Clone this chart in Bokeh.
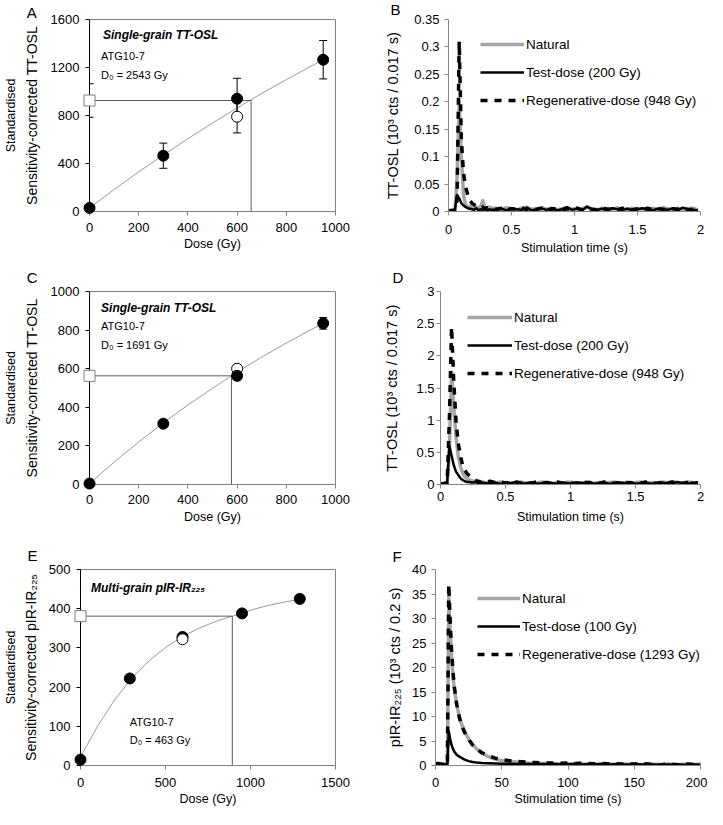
from bokeh.plotting import figure
from bokeh.layouts import column, row
from bokeh.models import (Range1d, FixedTicker, LinearAxis, Label, Whisker,
                          ColumnDataSource, Legend, LegendItem,
                          CustomJSTickFormatter, TeeHead)
from bokeh.core.properties import value
from bokeh.embed import file_html
from bokeh.resources import INLINE

FONT = "Liberation Sans"

# ---------------- Panel A (single-grain TT-OSL dose response) ----------------
A_dose = [0, 300, 600, 950]
A_signal = [30, 465, 940, 1265]
A_err = [0, 105, 170, 160]
A_recycle_dose = [600]
A_recycle = [790]
A_recycle_err = [135]
A_natural = 925
A_natural_err = 140
A_de = 657
A_fit_dose = [0, 100, 200, 300, 400, 500, 600, 700, 800, 900, 950]
A_fit = [30, 183, 330, 471, 607, 737, 863, 984, 1099, 1210, 1265]
A_xticks = [0, 200, 400, 600, 800, 1000]
A_yticks = [0, 400, 800, 1200, 1600]

# ---------------- Panel C ----------------
C_dose = [0, 300, 600, 950]
C_signal = [5, 315, 563, 835]
C_err = [0, 8, 20, 30]
C_recycle_dose = [600]
C_recycle = [600]
C_recycle_err = [18]
C_natural = 563
C_natural_err = 12
C_de = 577
C_fit_dose = [0, 100, 200, 300, 400, 500, 600, 700, 800, 900, 950]
C_fit = [5, 116, 220, 319, 412, 499, 582, 660, 733, 802, 835]
C_xticks = [0, 200, 400, 600, 800, 1000]
C_yticks = [0, 200, 400, 600, 800, 1000]

# ---------------- Panel E (multi-grain pIR-IR225) ----------------
E_dose = [0, 290, 600, 950, 1290]
E_signal = [15, 222, 328, 388, 425]
E_err = [0, 0, 0, 0, 0]
E_recycle_dose = [600]
E_recycle = [322]
E_recycle_err = [0]
E_natural = 381
E_natural_err = 0
E_de = 893
E_fit_dose = [0, 100, 200, 300, 400, 500, 600, 700, 800, 900, 1000, 1100, 1200, 1290]
E_fit = [22, 100, 167, 222, 266, 301, 329, 351, 368, 382, 396, 408, 417, 424]
E_xticks = [0, 500, 1000, 1500]
E_yticks = [0, 100, 200, 300, 400, 500]

# ---------------- Panels B and D (TT-OSL decay curves) ----------------
T_OSL = [0, 0.017, 0.034, 0.051, 0.068, 0.085, 0.102, 0.119, 0.136, 0.153,
         0.17, 0.187, 0.204, 0.221, 0.238, 0.255, 0.272, 0.289, 0.306, 0.323,
         0.34, 0.38, 0.42, 0.46, 0.5, 0.54, 0.58, 0.62, 0.66, 0.7,
         0.74, 0.78, 0.82, 0.86, 0.9, 0.94, 0.98, 1.02, 1.06, 1.1,
         1.14, 1.18, 1.22, 1.26, 1.3, 1.34, 1.38, 1.42, 1.46, 1.5,
         1.54, 1.58, 1.62, 1.66, 1.7, 1.74, 1.78, 1.82, 1.86, 1.9,
         1.94, 1.98]

B_nat_head = [0.002, 0.001, 0.003, 0.004, 0.06, 0.2, 0.1, 0.03, 0.012, 0.008,
              0.01, 0.006, 0.005, 0.008, 0.006, 0.009, 0.02, 0.007, 0.005, 0.008, 0.006]
B_nat_tail = [0.006, 0.004, 0.007, 0.005, 0.003, 0.006, 0.008, 0.004, 0.005, 0.007,
              0.004, 0.006, 0.003, 0.005, 0.007, 0.004, 0.006, 0.005, 0.008, 0.004,
              0.003, 0.006, 0.005, 0.004, 0.007, 0.003, 0.005, 0.006, 0.004, 0.005,
              0.003, 0.006, 0.004, 0.007, 0.005, 0.003, 0.006, 0.004, 0.005, 0.006,
              0.003]
B_test_head = [0.001, 0.002, 0.001, 0.003, 0.03, 0.024, 0.015, 0.011, 0.008, 0.006,
               0.005, 0.004, 0.003, 0.006, 0.002, 0.004, 0.003, 0.005, 0.002, 0.004, 0.003]
B_test_tail = [0.003, 0.005, 0.002, 0.006, 0.004, 0.003, 0.007, 0.002, 0.004, 0.005,
               0.003, 0.006, 0.002, 0.004, 0.008, 0.003, 0.005, 0.002, 0.009, 0.004,
               0.003, 0.005, 0.002, 0.006, 0.004, 0.003, 0.005, 0.002, 0.004, 0.006,
               0.003, 0.002, 0.005, 0.004, 0.003, 0.006, 0.002, 0.007, 0.004, 0.003,
               0.002]
B_reg_head = [0.001, 0.002, 0.002, 0.003, 0.02, 0.31, 0.13, 0.07, 0.045, 0.03,
              0.02, 0.015, 0.012, 0.01, 0.008, 0.006, 0.008, 0.005, 0.007, 0.006, 0.005]
B_reg_tail = [0.004, 0.006, 0.003, 0.005, 0.004, 0.007, 0.003, 0.005, 0.004, 0.006,
              0.003, 0.004, 0.006, 0.003, 0.005, 0.004, 0.006, 0.003, 0.005, 0.004,
              0.003, 0.006, 0.004, 0.005, 0.003, 0.006, 0.004, 0.003, 0.005, 0.004,
              0.006, 0.003, 0.005, 0.004, 0.003, 0.005, 0.004, 0.006, 0.003, 0.004,
              0.003]

D_nat_head = [0.01, 0.01, 0.02, 0.01, 0.5, 1.75, 1.2, 0.75, 0.45, 0.28,
              0.18, 0.12, 0.09, 0.07, 0.06, 0.05, 0.04, 0.05, 0.03, 0.04, 0.03]
D_nat_tail = [0.03, 0.02, 0.04, 0.03, 0.02, 0.03, 0.04, 0.02, 0.03, 0.02,
              0.04, 0.03, 0.02, 0.03, 0.02, 0.04, 0.03, 0.02, 0.03, 0.04,
              0.02, 0.03, 0.02, 0.03, 0.04, 0.02, 0.03, 0.02, 0.03, 0.04,
              0.02, 0.03, 0.02, 0.04, 0.03, 0.02, 0.03, 0.02, 0.04, 0.03,
              0.02]
D_test_head = [0.01, 0.02, 0.01, 0.02, 0.6, 0.45, 0.3, 0.2, 0.15, 0.1,
               0.07, 0.05, 0.04, 0.04, 0.03, 0.03, 0.04, 0.02, 0.03, 0.03, 0.02]
D_test_tail = [0.02, 0.03, 0.01, 0.03, 0.02, 0.04, 0.01, 0.02, 0.03, 0.01,
               0.02, 0.04, 0.02, 0.01, 0.03, 0.02, 0.01, 0.03, 0.02, 0.04,
               0.01, 0.02, 0.03, 0.01, 0.02, 0.03, 0.02, 0.04, 0.01, 0.02,
               0.03, 0.01, 0.02, 0.03, 0.02, 0.01, 0.04, 0.02, 0.01, 0.03,
               0.02]
D_reg_head = [0.01, 0.01, 0.02, 0.02, 1.0, 2.45, 1.6, 1.0, 0.65, 0.45,
              0.3, 0.22, 0.17, 0.14, 0.12, 0.08, 0.06, 0.05, 0.04, 0.05, 0.03]
D_reg_tail = [0.05, 0.03, 0.04, 0.02, 0.03, 0.04, 0.02, 0.03, 0.02, 0.04,
              0.03, 0.02, 0.03, 0.04, 0.02, 0.03, 0.02, 0.03, 0.04, 0.02,
              0.03, 0.02, 0.04, 0.03, 0.02, 0.03, 0.04, 0.02, 0.03, 0.02,
              0.04, 0.03, 0.02, 0.03, 0.02, 0.04, 0.03, 0.02, 0.03, 0.04,
              0.02]

OSL_xticks = [0, 0.5, 1, 1.5, 2]
B_yticks = [0, 0.05, 0.1, 0.15, 0.2, 0.25, 0.3, 0.35]
D_yticks = [0, 0.5, 1, 1.5, 2, 2.5, 3]

# ---------------- Panel F (pIR-IR225 decay curves) ----------------
T_IR = [0, 2, 4, 6, 8, 9, 10, 11, 12, 13,
        14, 16, 18, 20, 22, 25, 28, 31, 35, 40,
        45, 50, 55, 60, 65, 70, 75, 80, 85, 90,
        95, 100, 105, 110, 115, 120, 125, 130, 135, 140,
        145, 150, 155, 160, 165, 170, 175, 180, 185, 190,
        195, 200]
F_nat = [0.3, 0.3, 0.2, 0.3, 0.3, 0.4, 34.5, 28, 23, 19,
         16, 12.5, 10, 8.2, 7, 5.4, 4.3, 3.4, 2.5, 1.8,
         1.3, 1.0, 0.8, 0.7, 0.6, 0.5, 0.45, 0.4, 0.4, 0.35,
         0.35, 0.3, 0.35, 0.3, 0.3, 0.25, 0.3, 0.3, 0.25, 0.3,
         0.25, 0.3, 0.2, 0.3, 0.25, 0.2, 0.3, 0.25, 0.2, 0.3,
         0.25, 0.3]
F_test = [0.3, 0.4, 0.3, 0.3, 0.2, 0.3, 7.0, 5.5, 4.3, 3.5,
          2.9, 2.2, 1.8, 1.5, 1.2, 0.9, 0.7, 0.6, 0.5, 0.45,
          0.4, 0.35, 0.35, 0.3, 0.3, 0.3, 0.25, 0.3, 0.25, 0.3,
          0.2, 0.25, 0.3, 0.2, 0.25, 0.2, 0.3, 0.2, 0.25, 0.2,
          0.2, 0.25, 0.2, 0.15, 0.2, 0.1, 0.2, 0.15, 0.2, 0.1,
          0.2, 0.15]
F_reg = [0.3, 0.4, 0.3, 0.2, 0.3, 0.5, 37, 30, 24, 20,
         16.5, 12.5, 9.8, 8, 6.7, 5.3, 4.2, 3.4, 2.6, 2.0,
         1.5, 1.2, 1.0, 0.85, 0.75, 0.65, 0.6, 0.55, 0.5, 0.5,
         0.45, 0.5, 0.4, 0.45, 0.4, 0.35, 0.4, 0.35, 0.4, 0.3,
         0.35, 0.3, 0.4, 0.3, 0.2, 0.1, 0.3, 0.2, 0.1, 0.3,
         0.2, 0.3]
F_xticks = [0, 50, 100, 150, 200]
F_yticks = [0, 5, 10, 15, 20, 25, 30, 35, 40]

OSL_legend = ["Natural", "Test-dose (200 Gy)", "Regenerative-dose (948 Gy)"]
IR_legend = ["Natural", "Test-dose (100 Gy)", "Regenerative-dose (1293 Gy)"]

TICK_FMT_CODE = "return Number(tick.toFixed(3)).toString();"


def base_fig(w, h, left, right, top, bottom, xr, yr):
    p = figure(width=w, height=h, output_backend="svg", toolbar_location=None,
               x_range=Range1d(*xr), y_range=Range1d(*yr), title=None,
               min_border_left=left, min_border_right=right,
               min_border_top=top, min_border_bottom=bottom)
    p.xgrid.visible = False
    p.ygrid.visible = False
    p.background_fill_color = "white"
    p.border_fill_color = "white"
    return p


def style_axis(ax, ticks, line_color, tick_color, standoff, label, label_standoff,
               label_size="13px", fmt=False):
    ax.ticker = FixedTicker(ticks=ticks)
    ax.axis_line_color = line_color
    ax.axis_line_width = 1
    ax.major_tick_line_color = tick_color
    ax.major_tick_in = 0
    ax.major_tick_out = 4
    ax.minor_tick_line_color = None
    ax.major_label_text_font = FONT
    ax.major_label_text_font_size = "13px"
    ax.major_label_text_color = "black"
    ax.major_label_standoff = standoff
    ax.axis_label = label
    ax.axis_label_text_font = FONT
    ax.axis_label_text_font_size = label_size
    ax.axis_label_text_font_style = "normal"
    ax.axis_label_text_color = "black"
    ax.axis_label_standoff = label_standoff
    if fmt:
        ax.formatter = CustomJSTickFormatter(code=TICK_FMT_CODE)


def add_text(p, x, y, text, size="11px", style="normal"):
    p.add_layout(Label(x=x, y=y, text=text, text_font=FONT, text_font_size=size,
                       text_font_style=style, text_color="black", level="overlay",
                       text_baseline="middle", text_align="left"))


def add_letter(p, x, y, letter):
    p.text(x=[x], y=[y], text=[letter], text_font=value(FONT),
           text_font_size=value("15px"), text_color="black",
           text_baseline="middle", text_align="left", level="overlay")


def dose_panel(w, h, borders, xr, yr, xticks, yticks, dose, sig, err,
               rdose, rsig, rerr, nat, nat_err, de, fit_x, fit_y, ylabel,
               ystand, ylab_stand, outer_stand, xstand, xlab_stand, filled_on_top):
    p = base_fig(w, h, *borders, xr, yr)
    p.outline_line_color = "#808080"
    p.outline_line_width = 1
    style_axis(p.xaxis[0], xticks, "#808080", "#808080", xstand, "Dose (Gy)",
               xlab_stand, label_size="12.5px")
    style_axis(p.yaxis[0], yticks, "black", "black", ystand, ylabel, ylab_stand,
               label_size="14px")
    outer = LinearAxis(ticker=FixedTicker(ticks=[]), axis_label="Standardised",
                       axis_line_color=None, major_tick_line_color=None,
                       minor_tick_line_color=None, major_label_text_font_size="1px",
                       axis_label_text_font=FONT, axis_label_text_font_size="12.5px",
                       axis_label_text_font_style="normal", axis_label_text_color="black",
                       axis_label_standoff=outer_stand, major_label_standoff=0,
                       major_tick_out=0, major_tick_in=0)
    p.add_layout(outer, "left")

    # fitted dose-response curve and De projection
    p.line(fit_x, fit_y, line_color="#9a9a9a", line_width=1)
    p.line([0, de, de], [nat, nat, 0], line_color="#5a5a5a", line_width=1)

    # error bars
    wb, wl, wu = [], [], []
    for x, y, e in zip(dose + rdose + [0], sig + rsig + [nat], err + rerr + [nat_err]):
        if e > 0:
            wb.append(x)
            wl.append(y - e)
            wu.append(y + e)
    if wb:
        p.add_layout(Whisker(source=ColumnDataSource(dict(base=wb, lower=wl, upper=wu)),
                             base="base", lower="lower", upper="upper", dimension="height",
                             line_color="black", line_width=1, level="annotation",
                             upper_head=TeeHead(size=8, line_color="black", line_width=1),
                             lower_head=TeeHead(size=8, line_color="black", line_width=1)))

    def filled():
        p.scatter(dose, sig, marker="circle", size=11, fill_color="black",
                  line_color="black", level="overlay")

    def recycled():
        p.scatter(rdose, rsig, marker="circle", size=11, fill_color="white",
                  line_color="black", line_width=1, level="overlay")

    if filled_on_top:
        recycled()
        filled()
    else:
        filled()
        recycled()
    p.scatter([0], [nat], marker="square", size=11, fill_color="white",
              line_color="#7f7f7f", line_width=1, level="overlay")
    return p


def decay_panel(w, h, borders, xr, yr, xticks, yticks, t, nat, test, reg, labels,
                ylabel, leg_x, leg_y, glyph_w, ystand, ylab_stand, xstand, xlab_stand):
    p = base_fig(w, h, *borders, xr, yr)
    p.outline_line_color = None
    style_axis(p.xaxis[0], xticks, "#868686", "#868686", xstand, "Stimulation time (s)",
               xlab_stand, label_size="12.5px", fmt=True)
    style_axis(p.yaxis[0], yticks, "#868686", "#868686", ystand, ylabel, ylab_stand,
               label_size="14.5px", fmt=True)
    n = min(len(t), len(nat), len(test), len(reg))
    r1 = p.line(t[:n], nat[:n], line_color="#a6a6a6", line_width=3.5, line_join="round")
    r2 = p.line(t[:n], test[:n], line_color="black", line_width=2.5, line_join="round")
    r3 = p.line(t[:n], reg[:n], line_color="black", line_width=3.5, line_dash="7 7",
                line_join="round")
    legend = Legend(items=[LegendItem(label=labels[0], renderers=[r1]),
                           LegendItem(label=labels[1], renderers=[r2]),
                           LegendItem(label=labels[2], renderers=[r3])],
                    location=(leg_x, leg_y), orientation="vertical",
                    border_line_color=None, background_fill_alpha=0,
                    glyph_width=glyph_w, glyph_height=20, label_height=20,
                    label_standoff=2, spacing=8, padding=0, margin=0,
                    label_text_font=FONT, label_text_font_size="13.5px",
                    label_text_color="black")
    p.add_layout(legend)
    return p


# ---------------- build panels ----------------
LW, RW = 360, 347
pA = dose_panel(LW, 270, (80, 25, 16, 59), (0, 1000), (0, 1600), A_xticks, A_yticks,
                A_dose, A_signal, A_err, A_recycle_dose, A_recycle, A_recycle_err,
                A_natural, A_natural_err, A_de, A_fit_dose, A_fit,
                "Sensitivity-corrected TT-OSL", 6, 8, 3, 7, 2, True)
add_letter(pA, -255, 1661, "A")
add_text(pA, 55, 1469, "Single-grain TT-OSL", size="12px", style="bold italic")
add_text(pA, 47, 1296, "ATG10-7")
add_text(pA, 47, 1141, "D\u2080 = 2543 Gy")

pC = dose_panel(LW, 275, (80, 25, 21, 61), (0, 1000), (0, 1000), C_xticks, C_yticks,
                C_dose, C_signal, C_err, C_recycle_dose, C_recycle, C_recycle_err,
                C_natural, C_natural_err, C_de, C_fit_dose, C_fit,
                "Sensitivity-corrected TT-OSL", 6, 8, 3, 6, 3, True)
add_letter(pC, -255, 1073, "C")
add_text(pC, 47, 917, "Single-grain TT-OSL", size="12px", style="bold italic")
add_text(pC, 47, 819, "ATG10-7")
add_text(pC, 47, 725, "D\u2080 = 1691 Gy")

pE = dose_panel(LW, 264, (71, 25, 24, 44), (0, 1500), (0, 500), E_xticks, E_yticks,
                E_dose, E_signal, E_err, E_recycle_dose, E_recycle, E_recycle_err,
                E_natural, E_natural_err, E_de, E_fit_dose, E_fit,
                "Sensitivity-corrected pIR-IR\u2082\u2082\u2085", 6, 7, 2, 8, 2, False)
add_letter(pE, -312, 536, "E")
add_text(pE, 62, 454, "Multi-grain pIR-IR\u2082\u2082\u2085", size="12px", style="bold italic")
add_text(pE, 290, 110, "ATG10-7")
add_text(pE, 290, 66, "D\u2080 = 463 Gy")

pB = decay_panel(RW, 270, (88, 7, 19, 56), (0, 2), (0, 0.35), OSL_xticks, B_yticks,
                 T_OSL, B_nat_head + B_nat_tail, B_test_head + B_test_tail,
                 B_reg_head + B_reg_tail, OSL_legend,
                 "TT-OSL (10\u00b3 cts / 0.017 s)", 32, 101, 44, 5, 10, 9, 4)
add_letter(pB, -0.46, 0.368, "B")

pD = decay_panel(RW, 275, (80, 7, 21, 59), (0, 2), (0, 3), OSL_xticks, D_yticks,
                 T_OSL, D_nat_head + D_nat_tail, D_test_head + D_test_tail,
                 D_reg_head + D_reg_tail, OSL_legend,
                 "TT-OSL (10\u00b3 cts / 0.017 s)", 27, 101, 45, 2, 13, 3, 6)
add_letter(pD, -0.369, 3.215, "D")

pF = decay_panel(RW, 264, (75, 7, 23, 44), (0, 200), (0, 40), F_xticks, F_yticks,
                 T_IR, F_nat, F_test, F_reg, IR_legend,
                 "pIR-IR\u2082\u2082\u2085 (10\u00b3 cts / 0.2 s)", 42, 101, 43, 5, 6, 8, 2)
add_letter(pF, -32.5, 42.6, "F")

layout = column(row(pA, pB), row(pC, pD), row(pE, pF))

with open("out.html", "w") as f:
    f.write(file_html(layout, INLINE))
